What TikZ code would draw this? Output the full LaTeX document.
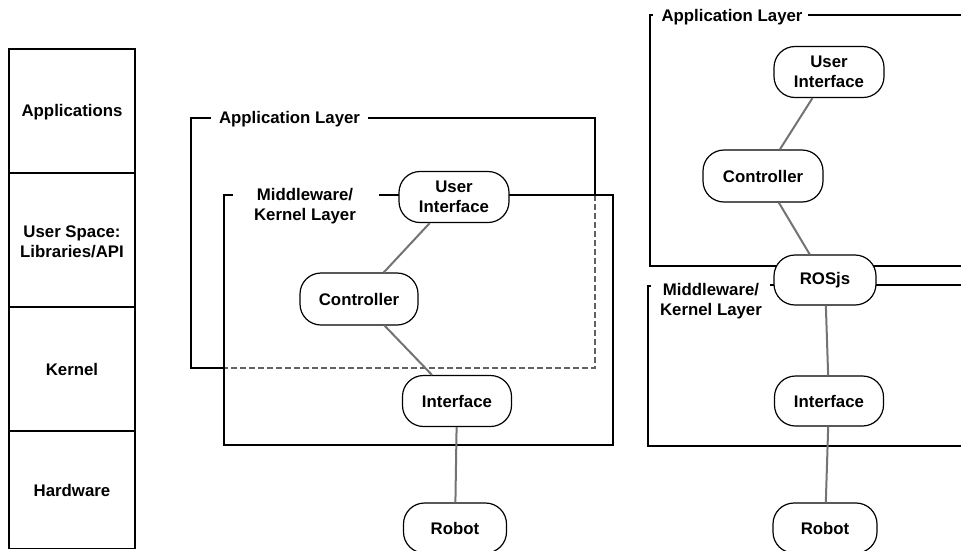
\documentclass[tikz,border=0pt]{standalone}
\usepackage{fontspec}
\setmainfont{Liberation Sans}
\begin{document}
\begin{tikzpicture}[x=1pt,y=-1pt,
  every node/.style={font=\fontsize{16.8}{20}\selectfont\bfseries, align=center, inner sep=2pt},
  blk/.style={draw=black, line width=1.2pt, fill=white, rounded corners=21pt, minimum height=50pt},
  lay/.style={line width=2.4pt, line cap=butt, line join=miter},
  dsh/.style={line width=1.6pt, draw=black!62, dash pattern=on 6pt off 3pt},
  link/.style={line width=2pt, draw=black!55},
  stackline/.style={line width=1.1pt}
]
\useasboundingbox (0,0) rectangle (961,550);

% ---- left stack ----
\draw[stackline] (9,49) rectangle (135,548.5);
\draw[stackline] (9,173) -- (135,173);
\draw[stackline] (9,307) -- (135,307);
\draw[stackline] (9,431) -- (135,431);
\node (sApp) at (72,112) {Applications};
\node (sUser) at (72,242) {User Space:\\Libraries/API};
\node (sKer) at (72,369) {Kernel};
\node (sHw) at (72,490) {Hardware};

% ---- middle diagram ----
\draw[dsh] (595,195) -- (595,368) -- (224,368);
\draw[lay] (211,118) -- (191,118) -- (191,368) -- (224,368);
\draw[lay] (368,118) -- (595,118) -- (595,196);
\draw[lay] (233,195) -- (224,195) -- (224,445) -- (613,445) -- (613,195) -- (379,195);
\node[anchor=base] (appM) at (289.5,123) {Application Layer};
\node (midM) at (305,206) {Middleware/\\Kernel Layer};

\node[blk, minimum width=110pt, minimum height=51pt] (ui1) at (454,197) {User\\Interface};
\node[blk, minimum width=118pt, minimum height=52pt] (ctl1) at (359,299) {Controller};
\node[blk, minimum width=109pt, minimum height=51pt] (if1) at (457,401) {Interface};
\node[blk, minimum width=103pt] (rb1) at (455,528) {Robot};
\draw[link] (ui1) -- (ctl1);
\draw[link] (ctl1) -- (if1);
\draw[link] (if1) -- (rb1);

% ---- right diagram ----
\draw[lay] (653,15) -- (650,15) -- (650,266) -- (965,266);
\draw[lay] (808,15) -- (965,15);
\draw[lay] (651,286) -- (648,286) -- (648,446) -- (965,446);
\draw[lay] (770,285) -- (965,285);
\node[anchor=base] (appR) at (732,21) {Application Layer};
\node (midR) at (711,301) {Middleware/\\Kernel Layer};

\node[blk, minimum width=110pt, minimum height=51pt] (ui2) at (829,72) {User\\Interface};
\node[blk, minimum width=120pt, minimum height=52pt] (ctl2) at (763,176) {Controller};
\node[blk, minimum width=102pt] (ros) at (825,280) {ROSjs};
\node[blk, minimum width=109pt] (if2) at (829,401) {Interface};
\node[blk, minimum width=104pt] (rb2) at (825,528) {Robot};
\draw[link] (ui2) -- (ctl2);
\draw[link] (ctl2) -- (ros);
\draw[link] (ros) -- (if2);
\draw[link] (if2) -- (rb2);
\end{tikzpicture}
\end{document}
